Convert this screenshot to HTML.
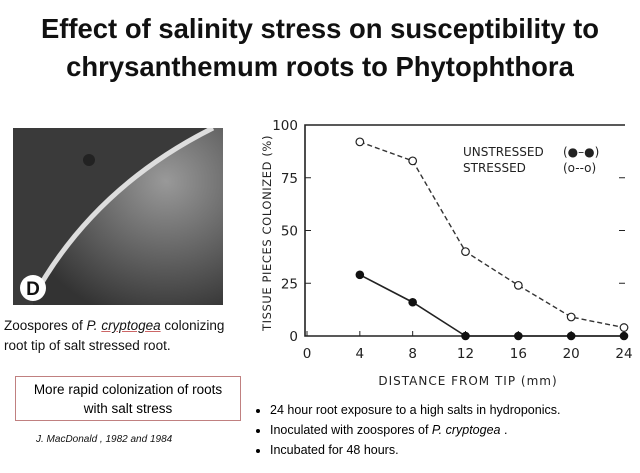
<!DOCTYPE html>
<html><head><meta charset="utf-8"><style>
body{margin:0;width:640px;height:473px;background:#fff;position:relative;overflow:hidden;font-family:"Liberation Sans",sans-serif}
.t{position:absolute;left:0;width:640px;text-align:center;font-weight:bold;font-size:28px;color:#111;transform:scaleX(0.98)}
.a{position:absolute;font-size:13.5px;color:#111;white-space:nowrap}
ul{position:absolute;left:252px;top:400px;margin:0;padding-left:18px;font-size:12.5px;line-height:20px}
</style></head><body>
<div class="t" style="top:13px">Effect of salinity stress on susceptibility to</div>
<div class="t" style="top:51px">chrysanthemum roots to Phytophthora</div>
<svg style="position:absolute;left:13px;top:128px" width="210" height="177">
<defs><radialGradient id="g" cx="0.7" cy="0.3" r="0.8"><stop offset="0" stop-color="#999"/><stop offset="1" stop-color="#333"/></radialGradient></defs>
<rect width="210" height="177" fill="#3a3a3a"/>
<path d="M20 170 Q80 60 200 0 L210 0 L210 177 L20 177Z" fill="url(#g)"/>
<path d="M20 170 Q80 60 200 0" stroke="#ddd" stroke-width="5" fill="none"/>
<circle cx="76" cy="32" r="6" fill="#222"/>
<circle cx="20" cy="160" r="13" fill="#fff"/>
<text x="20" y="167" font-size="19" font-weight="bold" text-anchor="middle" fill="#111" font-family="Liberation Sans">D</text>
</svg>
<div class="a" style="left:4px;top:316px;line-height:20px">Zoospores of <i>P. <u style="text-decoration-color:#c66">cryptogea</u></i> colonizing<br>root tip of salt stressed root.</div>
<div style="position:absolute;left:15px;top:376px;width:226px;height:45px;border:1px solid #c08080;text-align:center;font-size:13.5px;line-height:19px;padding-top:3px;box-sizing:border-box">More rapid colonization of roots<br>with salt stress</div>
<div class="a" style="left:36px;top:434px;font-size:10px;font-style:italic">J. MacDonald , 1982 and 1984</div>
<ul>
<li>24 hour root exposure to a high salts in hydroponics.</li>
<li>Inoculated with zoospores of <i>P. cryptogea</i> .</li>
<li>Incubated for 48 hours.</li>
</ul>
<svg id="c" style="position:absolute;left:0;top:0" width="640" height="400"></svg>
<script>
const xVals=[4,8,12,16,20,24];
const stressed=[92,83,40,24,9,4];
const unstressed=[29,16,0,0,0,0];
const xTicks=[0,4,8,12,16,20,24];
const yTicks=[0,25,50,75,100];
const xTickLabels=["0","4","8","12","16","20","24"];
const X=v=>307+v*(624-307)/24, Y=v=>336-v*(336-125)/100;
const s=document.getElementById('c'),N='http://www.w3.org/2000/svg';
function el(t,a,p){const e=document.createElementNS(N,t);for(const k in a)e.setAttribute(k,a[k]);(p||s).appendChild(e);return e;}
const F='font-family:"DejaVu Sans",sans-serif';
let e=el('path',{d:`M625 125 H305 V336 H625`,fill:'none',stroke:'#222','stroke-width':1.6});

xTicks.forEach((v,i)=>{let l=el('line',{x1:X(v),x2:X(v),y1:336,y2:331,stroke:'#222'});
let t=el('text',{x:X(v),y:358,'text-anchor':'middle','font-size':13.5,style:F,fill:'#222'});t.textContent=xTickLabels[i];});
yTicks.forEach(v=>{let l=el('line',{x1:305,x2:311,y1:Y(v),y2:Y(v),stroke:'#222'});
let r=el('line',{x1:619,x2:625,y1:Y(v),y2:Y(v),stroke:'#222'});
let t=el('text',{x:298,y:Y(v)+5,'text-anchor':'end','font-size':13.5,style:F,fill:'#222'});t.textContent=v;});
let xt=el('text',{x:468,y:385,'text-anchor':'middle','font-size':12,style:F+';letter-spacing:1px',fill:'#222'});xt.textContent='DISTANCE  FROM  TIP   (mm)';
let yt=el('text',{x:0,y:0,'text-anchor':'middle','font-size':11.5,style:F+';letter-spacing:0.6px',fill:'#222',transform:'translate(271,233) rotate(-90)'});yt.textContent='TISSUE PIECES COLONIZED (%)';
let p1=el('polyline',{points:xVals.map((x,i)=>X(x)+','+Y(stressed[i])).join(' '),fill:'none',stroke:'#333','stroke-width':1.4,'stroke-dasharray':'5,3'});
let p2=el('polyline',{points:xVals.map((x,i)=>X(x)+','+Y(unstressed[i])).join(' '),fill:'none',stroke:'#222','stroke-width':1.6});
xVals.forEach((x,i)=>{let c=el('circle',{cx:X(x),cy:Y(stressed[i]),r:3.8,fill:'#fff',stroke:'#222','stroke-width':1.2});
let d=el('circle',{cx:X(x),cy:Y(unstressed[i]),r:4.3,fill:'#111'});});
[['UNSTRESSED','(●–●)',156],['STRESSED','(o--o)',172]].forEach(a=>{let t=el('text',{x:463,y:a[2],'font-size':12,style:F,fill:'#222'});t.textContent=a[0];
let u=el('text',{x:563,y:a[2],'font-size':12,style:F,fill:'#222'});u.textContent=a[1];});
</script>
</body></html>
